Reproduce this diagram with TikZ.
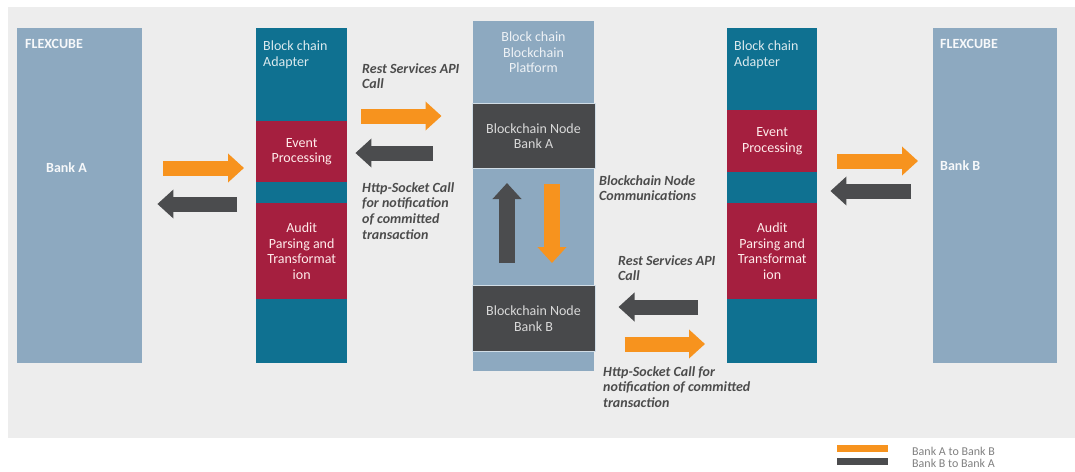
\documentclass[tikz,border=0pt]{standalone}
\usepackage{fontspec}
\setmainfont{Carlito}
\usepackage{tikz}
\usetikzlibrary{positioning,arrows.meta}
\definecolor{steelbox}{HTML}{8DA9C0}
\definecolor{adaptteal}{HTML}{0F7191}
\definecolor{eventred}{HTML}{A51F3F}
\definecolor{nodegrey}{HTML}{48494B}
\definecolor{flowab}{HTML}{F7931E}
\definecolor{flowba}{HTML}{4B4C4E}
\definecolor{panelgrey}{HTML}{EDEDED}
\definecolor{labelgrey}{HTML}{4C4C4C}
\tikzstyle{flow} = [line width=15pt,-{Triangle[length=16pt,width=28pt]}]
\tikzstyle{lbl} = [anchor=north west,inner sep=0pt,align=left,text=labelgrey,font=\fontsize{14}{15.7}\selectfont\bfseries\itshape]

\begin{document}
\begin{tikzpicture}[x=1pt,y=-1pt,
  every node/.style={font=\fontsize{14}{15.5}\selectfont},
  bank/.style={fill=steelbox,anchor=north west,inner sep=0pt,minimum width=125pt,minimum height=335pt},
  adapter/.style={fill=adaptteal,anchor=north west,inner sep=0pt,minimum width=91pt,minimum height=335pt},
  event/.style={fill=eventred,anchor=north,inner sep=0pt,minimum width=91pt,align=center,text=red!8},
  chainnode/.style={fill=nodegrey,draw=steelbox!40,line width=1pt,anchor=north,inner sep=0pt,minimum width=123pt,minimum height=65pt,align=center,text=black!15},
  boxtitle/.style={anchor=west,inner sep=0pt,text=white!92!steelbox,font=\fontsize{14}{15.5}\selectfont\bfseries},
  ab/.style={flow,draw=flowab},
  ba/.style={flow,draw=flowba}]
  \fill[panelgrey] (8,7) rectangle (1075,438);
  \useasboundingbox (0,0) rectangle (1075,471);

  % bank A side
  \node[bank] (flexA) at (17,28) {};
  \node[boxtitle] (flexAtitle) at (25,44) {FLEXCUBE};
  \node[boxtitle] (bankA) at (46,168) {Bank A};
  \node[adapter] (adA) at (256,28) {};
  \node[anchor=north west,inner sep=0pt,align=left,text=white!85!adaptteal] (adAtitle) at (263,41) {Block chain\\Adapter};
  \node[event,minimum height=61pt] (evA) [below=93pt of adA.north] {Event\\Processing};
  \node[event,minimum height=96pt] (auA) [below=175pt of adA.north] {Audit\\Parsing and\\Transformat\\ion};

  % platform
  \node[fill=steelbox,anchor=north west,inner sep=0pt,minimum width=121pt,minimum height=350pt] (plat) at (473,21) {};
  \node[align=center,inner sep=0pt,text=white!85!steelbox] (platTitle) at (533.5,52.5) {Block chain\\Blockchain\\Platform};
  \node[chainnode] (nodeA) at (533.5,103) {Blockchain Node\\Bank A};
  \node[chainnode,minimum height=66pt] (nodeB) at (533.5,285) {Blockchain Node\\Bank B};

  % bank B side
  \node[adapter,minimum width=90pt] (adB) at (727,28) {};
  \node[anchor=north west,inner sep=0pt,align=left,text=white!85!adaptteal] (adBtitle) at (734,41) {Block chain\\Adapter};
  \node[event,minimum width=90pt,minimum height=62pt] (evB) [below=82pt of adB.north] {Event\\Processing};
  \node[event,minimum width=90pt,minimum height=96pt] (auB) [below=175pt of adB.north] {Audit\\Parsing and\\Transformat\\ion};
  \node[bank,minimum width=124pt] (flexB) at (933,28) {};
  \node[boxtitle] (flexBtitle) at (940,44) {FLEXCUBE};
  \node[boxtitle] (bankB) at (940,166) {Bank B};

  % flows
  \draw[ab,shorten <=21pt,shorten >=12pt] (flexA.east |- 0,168) -- (adA.west |- 0,168);
  \draw[ba,shorten <=19pt,shorten >=15pt] (adA.west |- 0,204) -- (flexA.east |- 0,204);
  \draw[ab,shorten <=14pt,shorten >=30pt] (adA.east |- 0,116) -- (nodeA.west |- 0,116);
  \draw[ba,shorten <=39pt,shorten >=8pt] (nodeA.west |- 0,153) -- (adA.east |- 0,153);
  \draw[ba,line width=16pt,shorten <=22pt,shorten >=14pt] (nodeB.north -| 507,0) -- (nodeA.south -| 507,0);
  \draw[ab,line width=16pt,shorten <=15pt,shorten >=22pt] (nodeA.south -| 552,0) -- (nodeB.north -| 552,0);
  \draw[ba,shorten <=29pt,shorten >=23pt] (adB.west |- 0,307) -- (nodeB.east |- 0,307);
  \draw[ab,shorten <=29pt,shorten >=22pt] (nodeB.east |- 0,344) -- (adB.west |- 0,344);
  \draw[ab,shorten <=20pt,shorten >=15pt] (adB.east |- 0,161) -- (flexB.west |- 0,161);
  \draw[ba,shorten <=22pt,shorten >=13pt] (flexB.west |- 0,191) -- (adB.east |- 0,191);

  % labels
  \node[lbl] (restA) at (362,63) {Rest Services API\\Call};
  \node[lbl] (httpA) at (362,182) {Http-Socket Call\\for notification\\of committed\\transaction};
  \node[lbl] (comm) at (599,175) {Blockchain Node\\Communications};
  \node[lbl] (restB) at (618,255) {Rest Services API\\Call};
  \node[lbl] (httpB) at (603,366) {Http-Socket Call for\\notification of committed\\transaction};

  % legend
  \node[fill=flowab,inner sep=0pt,minimum width=51pt,minimum height=7pt] (legAB) at (862.5,448) {};
  \node[fill=flowba,inner sep=0pt,minimum width=51pt,minimum height=7pt] (legBA) at (862.5,461) {};
  \node[anchor=west,inner sep=0pt,text=black!50,font=\fontsize{12}{13}\selectfont] (legABtext) at (912,451) {Bank A to Bank B};
  \node[anchor=west,inner sep=0pt,text=black!50,font=\fontsize{12}{13}\selectfont] (legBAtext) at (912,463) {Bank B to Bank A};
\end{tikzpicture}
\end{document}
